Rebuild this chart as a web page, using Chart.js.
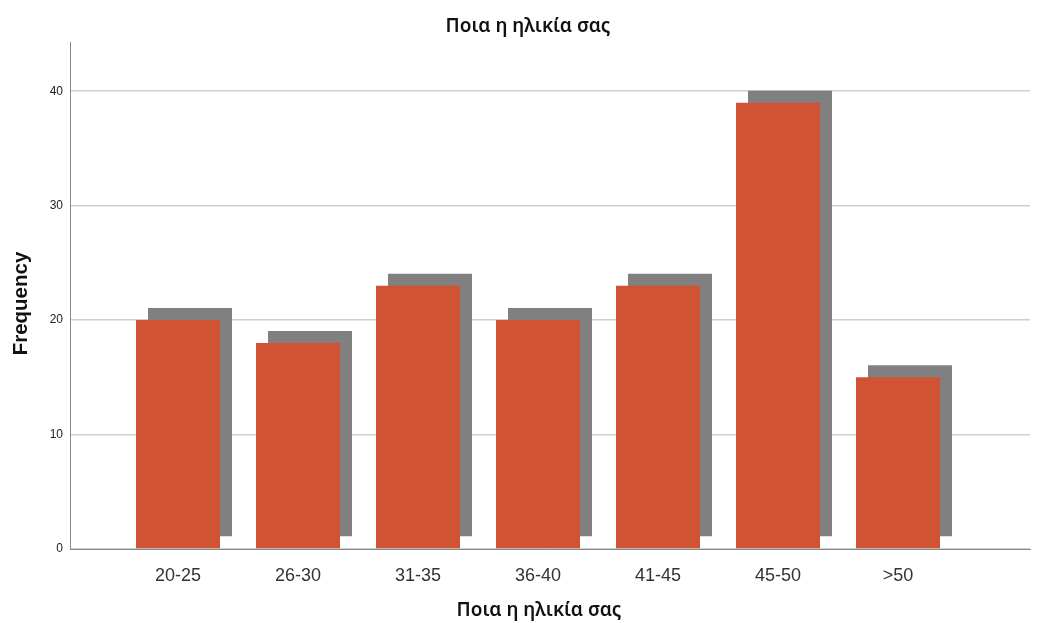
<!DOCTYPE html>
<html>
<head>
<meta charset="utf-8">
<script src="https://cdn.jsdelivr.net/npm/chart.js@4"></script>
<style>
  html, body { margin: 0; padding: 0; background: #fff; }
  #wrap { width: 1045px; height: 623px; }
</style>
</head>
<body>
<div id="wrap"><canvas id="c"></canvas></div>
<script>
// Age groups and how many respondents fell in each
const categories = ['20-25', '26-30', '31-35', '36-40', '41-45', '45-50', '>50'];
const frequencies = [20, 18, 23, 20, 23, 39, 15];
const yTicks = [0, 10, 20, 30, 40];
const chartTitle = 'Ποια η ηλικία σας';
const xTitle = 'Ποια η ηλικία σας';
const yTitle = 'Frequency';

const FONT = "'Liberation Sans', Arial, sans-serif";
const TITLE_FONT = "'Noto Sans', 'Open Sans', sans-serif";
const BAR = '#D05434';
const SHADOW = '#808080';

// Paint the shadow dataset shifted right and up for a raised look
const shadowShift = {
  id: 'shadowShift',
  beforeDatasetDraw(chart, args) {
    if (args.index === 1) {
      chart.ctx.save();
      chart.ctx.translate(12, -12);
    }
  },
  afterDatasetDraw(chart, args) {
    if (args.index === 1) chart.ctx.restore();
  }
};

// Chart title and the two axis titles
const titles = {
  id: 'titles',
  afterDraw(chart) {
    const ctx = chart.ctx;
    const a = chart.chartArea;
    ctx.save();
    ctx.fillStyle = '#111';
    ctx.textAlign = 'center';
    ctx.textBaseline = 'middle';
    ctx.font = `600 19px ${TITLE_FONT}`;
    ctx.fillText(chartTitle, a.left + 458, 27);
    ctx.fillText(xTitle, a.left + 469, a.bottom + 62);
    ctx.translate(21, (a.top + a.bottom) / 2 + 8);
    ctx.rotate(-Math.PI / 2);
    ctx.font = `bold 20.5px ${FONT}`;
    ctx.fillText(yTitle, 0, 0);
    ctx.restore();
  }
};

const points = frequencies.map((v, i) => ({ x: i, y: v }));

new Chart(document.getElementById('c'), {
  type: 'bar',
  data: {
    datasets: [
      { data: points, backgroundColor: BAR, grouped: false, order: 0,
        barPercentage: 0.7, categoryPercentage: 1 },
      { data: points, backgroundColor: SHADOW, grouped: false, order: 1,
        barPercentage: 0.7, categoryPercentage: 1, clip: false }
    ]
  },
  options: {
    responsive: true,
    maintainAspectRatio: false,
    animation: false,
    layout: { padding: { left: 0, right: 15, top: 42, bottom: 0 } },
    plugins: {
      legend: { display: false },
      tooltip: { enabled: false },
      title: { display: false }
    },
    scales: {
      x: {
        type: 'linear',
        offset: false,
        min: -0.9,
        max: 7.1,
        afterBuildTicks(scale) {
          scale.ticks = categories.map((_, i) => ({ value: i }));
        },
        afterFit(scale) { scale.height = 74; },
        grid: { display: false, drawTicks: false, offset: false },
        border: { display: true, color: '#888', width: 1 },
        ticks: {
          padding: 16,
          color: '#333',
          maxRotation: 0,
          autoSkip: false,
          font: { family: FONT, size: 18 },
          callback: (v) => categories[v] ?? ''
        }
      },
      y: {
        type: 'linear',
        min: 0,
        max: 44.3,
        afterBuildTicks(scale) {
          scale.ticks = yTicks.map(v => ({ value: v }));
        },
        afterFit(scale) { scale.width = 70; },
        grid: { color: '#cfcfcf', lineWidth: 1.5, drawTicks: false },
        border: { display: true, color: '#888', width: 1 },
        ticks: {
          padding: 7,
          color: '#222',
          font: { family: FONT, size: 12 }
        }
      }
    }
  },
  plugins: [shadowShift, titles]
});
</script>
</body>
</html>
